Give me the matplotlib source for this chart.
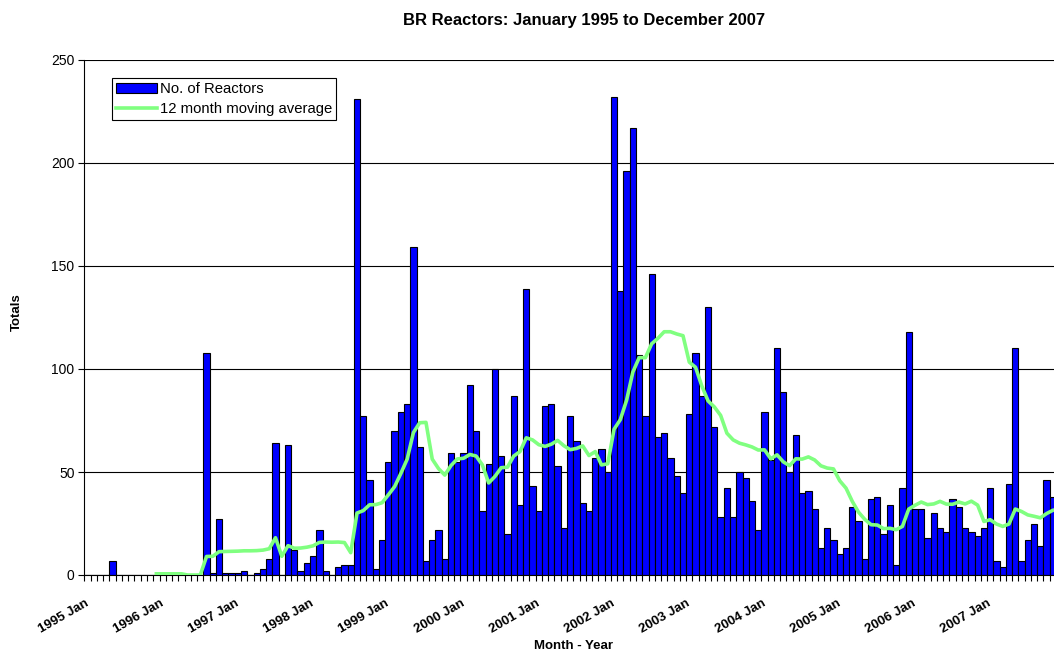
"""
BR Reactors: monthly counts Jan 1995 - Dec 2007 with 12 month moving average.
"""
import matplotlib

matplotlib.use("Agg")
import matplotlib.pyplot as plt
import matplotlib.transforms as mtransforms
import numpy as np
import pandas as pd

plt.rcParams["font.family"] = ["Liberation Sans", "DejaVu Sans"]

# monthly reactor counts, Jan..Dec
Y1995 = [0, 0, 0, 0, 7, 0, 0, 0, 0, 0, 0, 0]
Y1996 = [0, 0, 0, 0, 0, 0, 0, 108, 1, 27, 1, 1]
Y1997 = [1, 2, 0, 1, 3, 8, 64, 0, 63, 12, 2, 6]
Y1998 = [9, 22, 2, 0, 4, 5, 5, 231, 77, 46, 3, 17]
Y1999 = [55, 70, 79, 83, 159, 62, 7, 17, 22, 8, 59, 55]
Y2000 = [59, 92, 70, 31, 54, 100, 58, 20, 87, 34, 139, 43]
Y2001 = [31, 82, 83, 53, 23, 77, 65, 35, 31, 57, 61, 50]
Y2002 = [232, 138, 196, 217, 107, 77, 146, 67, 69, 57, 48, 40]
Y2003 = [78, 108, 87, 130, 72, 28, 42, 28, 50, 47, 36, 22]
Y2004 = [79, 56, 110, 89, 50, 68, 40, 41, 32, 13, 23, 17]
Y2005 = [10, 13, 33, 26, 8, 37, 38, 20, 34, 5, 42, 118]
Y2006 = [32, 32, 18, 30, 23, 21, 37, 33, 23, 21, 19, 23]
Y2007 = [42, 7, 4, 44, 110, 7, 17, 25, 14, 46, 38, 30]

YEAR_LABELS = ["1995 Jan", "1996 Jan", "1997 Jan", "1998 Jan", "1999 Jan",
               "2000 Jan", "2001 Jan", "2002 Jan", "2003 Jan", "2004 Jan",
               "2005 Jan", "2006 Jan", "2007 Jan"]

counts = pd.Series(Y1995 + Y1996 + Y1997 + Y1998 + Y1999 + Y2000 + Y2001
                   + Y2002 + Y2003 + Y2004 + Y2005 + Y2006 + Y2007, dtype=float)
moving_avg = counts.rolling(12).mean()
x = np.arange(len(counts))

W, H = 1054, 667
fig = plt.figure(figsize=(W / 100, H / 100), dpi=100)
fig.patch.set_facecolor("white")
# plot area runs past the right edge of the picture, as in the source image
ax = fig.add_axes([84.3 / W, 92 / H, 978 / W, 515 / H])
ax.set_facecolor("white")

ax.yaxis.grid(True, color="black", lw=0.8)
ax.set_axisbelow(True)

bars = ax.bar(x, counts, width=1.0, color="#0000FF", edgecolor="black",
              lw=0.8, label="No. of Reactors", zorder=2)
line, = ax.plot(x, moving_avg, color="#80FF80", lw=2.6,
                label="12 month moving average", zorder=3)

ax.set_xlim(-0.5, len(counts) - 0.5)
ax.set_ylim(0, 250)
ax.set_yticks(np.arange(0, 251, 50))
ax.tick_params(axis="y", labelsize=10, length=4, width=0.8, direction="out", pad=3)

ax.set_xticks(np.arange(0, len(counts), 12))
ax.set_xticklabels(YEAR_LABELS, rotation=30, ha="right", fontsize=9.5,
                   fontweight="bold", rotation_mode="anchor")
ax.set_xticks(np.arange(-0.5, len(counts), 1), minor=True)
ax.tick_params(axis="x", which="major", length=0, pad=16)
ax.tick_params(axis="x", which="minor", length=4, width=0.8, direction="out")
shift = mtransforms.ScaledTranslation(-3 / 100, 0, fig.dpi_scale_trans)
for lab in ax.get_xticklabels():
    lab.set_transform(lab.get_transform() + shift)

for side in ["top", "right"]:
    ax.spines[side].set_visible(False)
ax.spines["left"].set_linewidth(0.8)
ax.spines["bottom"].set_linewidth(0.8)

fig.text(584 / W, 1 - 20 / H, "BR Reactors: January 1995 to December 2007",
         ha="center", va="center", fontsize=12, fontweight="bold")
fig.text(573 / W, 1 - 646 / H, "Month - Year", ha="center", va="center",
         fontsize=9.5, fontweight="bold")
fig.text(17 / W, 1 - 312 / H, "Totals", ha="center", va="center",
         rotation=90, fontsize=9.5, fontweight="bold")

leg = ax.legend(handles=[bars, line], loc="upper left",
                bbox_to_anchor=(112 / W, 1 - 78 / H), bbox_transform=fig.transFigure,
                borderaxespad=0, fancybox=False, framealpha=1, edgecolor="black",
                fontsize=10.7, handlelength=2.7, handleheight=0.65,
                handletextpad=0.2, borderpad=0.3, labelspacing=0.35)
leg.get_frame().set_linewidth(0.8)

fig.savefig("out.png", dpi=100)
plt.close(fig)
